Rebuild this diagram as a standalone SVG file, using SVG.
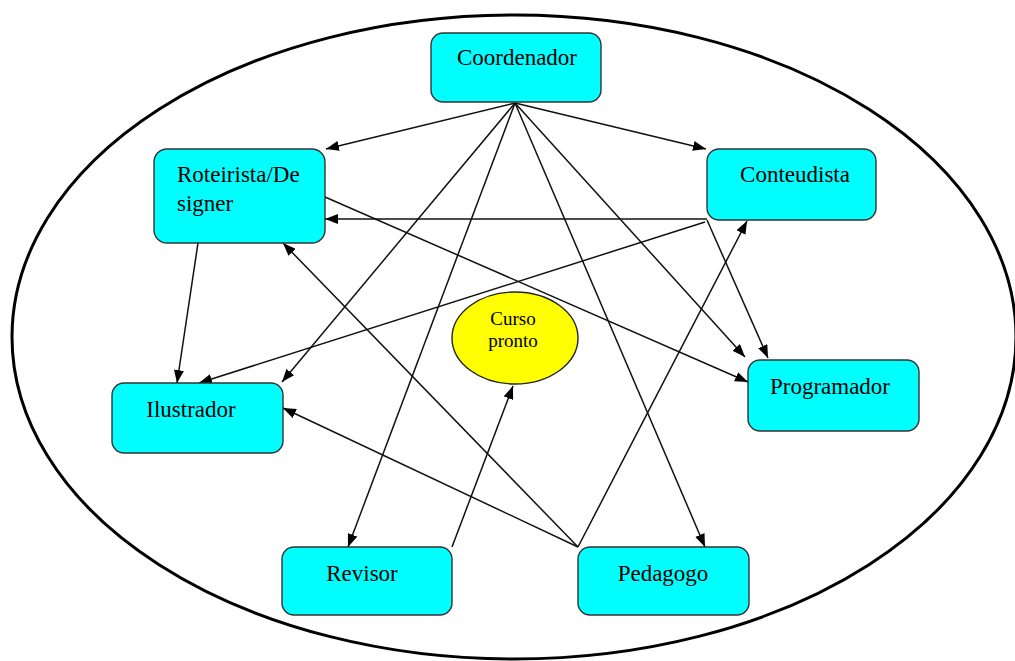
<svg xmlns="http://www.w3.org/2000/svg" width="1015" height="661" viewBox="0 0 1015 661">
  <style>
    .box { fill: #00ffff; stroke: #333333; stroke-width: 1.4; }
    .goal { fill: #ffff00; stroke: #222222; stroke-width: 1.4; }
    .lbl { font-family: "Liberation Serif", "Times New Roman", serif; font-size: 23px; fill: #000000; }
    .lbl-sm { font-family: "Liberation Serif", "Times New Roman", serif; font-size: 19px; fill: #000000; text-anchor: middle; }
    .mid { text-anchor: middle; }
    .edge { stroke: #111111; stroke-width: 1.5; fill: none; marker-end: url(#arrow); }
  </style>
  <defs>
    <marker id="arrow" markerWidth="13" markerHeight="10" refX="13" refY="5" orient="auto" markerUnits="userSpaceOnUse">
      <path d="M0,0 L13,5 L0,10 z" fill="#000000"/>
    </marker>
  </defs>

  <rect width="1015" height="661" fill="#ffffff"/>

  <!-- outer boundary -->
  <ellipse cx="514" cy="337" rx="502" ry="322" fill="none" stroke="#000000" stroke-width="3"/>

  <!-- central goal -->
  <g id="curso-pronto">
    <ellipse class="goal" cx="515" cy="338" rx="63" ry="46"/>
    <text class="lbl-sm" x="513" y="325">Curso</text>
    <text class="lbl-sm" x="513" y="347">pronto</text>
  </g>

  <g id="connectors">
    <!-- from Coordenador -->
    <line class="edge" x1="515" y1="103" x2="326" y2="149"/>
    <line class="edge" x1="515" y1="103" x2="706" y2="149"/>
    <line class="edge" x1="515" y1="103" x2="282" y2="382"/>
    <line class="edge" x1="515" y1="103" x2="348" y2="547"/>
    <line class="edge" x1="515" y1="103" x2="705" y2="547"/>
    <line class="edge" x1="515" y1="103" x2="745" y2="357"/>
    <!-- from Roteirista/Designer -->
    <line class="edge" x1="325" y1="197" x2="748" y2="382"/>
    <line class="edge" x1="198" y1="243" x2="177" y2="383"/>
    <!-- from Conteudista -->
    <line class="edge" x1="707" y1="219" x2="325" y2="219"/>
    <line class="edge" x1="707" y1="220" x2="768" y2="358"/>
    <line class="edge" x1="705" y1="222" x2="199" y2="383"/>
    <!-- from Pedagogo -->
    <line class="edge" x1="578" y1="547" x2="283" y2="243"/>
    <line class="edge" x1="578" y1="547" x2="283" y2="408"/>
    <line class="edge" x1="578" y1="547" x2="747" y2="221"/>
    <!-- from Revisor -->
    <line class="edge" x1="452" y1="547" x2="513" y2="386"/>
  </g>

  <g id="coordenador">
    <rect class="box" x="431" y="33" width="170" height="69" rx="12"/>
    <text class="lbl mid" x="517" y="65">Coordenador</text>
  </g>

  <g id="roteirista">
    <rect class="box" x="154" y="149" width="171" height="94" rx="13"/>
    <text class="lbl" x="177" y="182">Roteirista/De</text>
    <text class="lbl" x="177" y="211">signer</text>
  </g>

  <g id="conteudista">
    <rect class="box" x="707" y="149" width="169" height="71" rx="12"/>
    <text class="lbl mid" x="795" y="182">Conteudista</text>
  </g>

  <g id="ilustrador">
    <rect class="box" x="112" y="383" width="171" height="70" rx="12"/>
    <text class="lbl mid" x="191" y="417">Ilustrador</text>
  </g>

  <g id="programador">
    <rect class="box" x="748" y="360" width="171" height="71" rx="12"/>
    <text class="lbl mid" x="830" y="394">Programador</text>
  </g>

  <g id="revisor">
    <rect class="box" x="282" y="547" width="170" height="68" rx="12"/>
    <text class="lbl mid" x="362" y="581">Revisor</text>
  </g>

  <g id="pedagogo">
    <rect class="box" x="578" y="547" width="171" height="68" rx="12"/>
    <text class="lbl mid" x="663" y="581">Pedagogo</text>
  </g>
</svg>
